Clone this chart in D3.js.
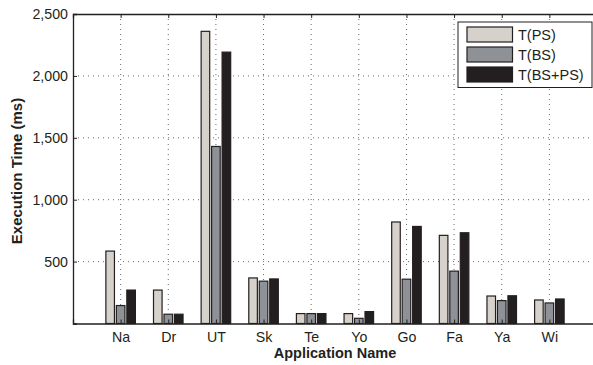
<!DOCTYPE html>
<html>
<head>
<meta charset="utf-8">
<script src="https://cdn.jsdelivr.net/npm/d3@7"></script>
<style>
  body { margin: 0; background: #fff; }
  svg { display: block; }
</style>
</head>
<body>
<svg id="chart" width="593" height="365"></svg>
<script>
// data
const apps = ["Na", "Dr", "UT", "Sk", "Te", "Yo", "Go", "Fa", "Ya", "Wi"];
const seriesNames = ["T(PS)", "T(BS)", "T(BS+PS)"];
const tPS   = [585, 270, 2360, 368, 80, 80, 820, 712, 222, 190];
const tBS   = [145, 75, 1430, 342, 80, 42, 358, 423, 185, 166];
const tBSPS = [270, 75, 2192, 360, 80, 96, 784, 733, 224, 198];
const yTicks = [500, 1000, 1500, 2000, 2500];
const colors = ["#d6d2cb", "#8e9195", "#231f20"];

const series = [tPS, tBS, tBSPS];

const svg = d3.select("#chart");
const width = 593, height = 365;
const margin = { top: 14, left: 73, bottom: 42 };
const plotRight = 597; // axis runs past the window edge
const plotBottom = height - margin.bottom + 0.5;

const font = "'Liberation Sans', Arial, Helvetica, sans-serif";

// scales
const x = d3.scaleLinear().domain([0, 11]).range([margin.left, plotRight]);
const y = d3.scaleLinear().domain([0, 2500]).range([plotBottom, margin.top]);

const gap = x(0.22) - x(0);
const bw = x(0.18) - x(0);

// grid
const grid = svg.append("g").attr("stroke", "#444").attr("stroke-width", 0.8)
  .attr("stroke-dasharray", "1,4");
grid.selectAll("line.v")
  .data(apps)
  .join("line")
    .attr("x1", (d, i) => x(i + 1))
    .attr("x2", (d, i) => x(i + 1))
    .attr("y1", y(2500))
    .attr("y2", y(0));
grid.selectAll("line.h")
  .data(yTicks.slice(0, -1))
  .join("line")
    .attr("x1", x(0))
    .attr("x2", plotRight)
    .attr("y1", d => y(d))
    .attr("y2", d => y(d));

// bars
series.forEach((vals, j) => {
  svg.append("g")
    .selectAll("rect")
    .data(vals)
    .join("rect")
      .attr("x", (d, i) => x(i + 1) + (j - 1) * gap - bw / 2)
      .attr("y", d => y(d))
      .attr("width", bw)
      .attr("height", d => y(0) - y(d))
      .attr("fill", colors[j])
      .attr("stroke", "#231f20")
      .attr("stroke-width", 1.2);
});

// axes
const xBottom = svg.append("g")
  .attr("transform", `translate(0,${y(0)})`)
  .call(d3.axisBottom(x).tickValues(d3.range(1, 11)).tickSize(-4)
    .tickFormat(d => apps[d - 1]).tickPadding(8));
const xTop = svg.append("g")
  .attr("transform", `translate(0,${y(2500)})`)
  .call(d3.axisTop(x).tickValues(d3.range(1, 11)).tickSize(-4).tickFormat(""));
const yLeft = svg.append("g")
  .attr("transform", `translate(${x(0)},0)`)
  .call(d3.axisLeft(y).tickValues(yTicks).tickSize(-4)
    .tickFormat(d3.format(",")).tickPadding(5));

[xBottom, xTop, yLeft].forEach(ax => {
  ax.select(".domain").attr("stroke", "#231f20").attr("stroke-width", 1.3);
  ax.selectAll(".tick line").attr("stroke", "#231f20");
  ax.selectAll("text")
    .attr("fill", "#231f20")
    .attr("font-family", font)
    .attr("font-size", "14.2px");
});

// axis titles
svg.append("text")
  .attr("x", (x(0) + plotRight) / 2)
  .attr("y", 358)
  .attr("text-anchor", "middle")
  .attr("font-family", font)
  .attr("font-weight", "bold")
  .attr("font-size", "14.5px")
  .attr("fill", "#231f20")
  .text("Application Name");

svg.append("text")
  .attr("transform", `translate(22,171) rotate(-90)`)
  .attr("text-anchor", "middle")
  .attr("font-family", font)
  .attr("font-weight", "bold")
  .attr("font-size", "15px")
  .attr("fill", "#231f20")
  .text("Execution Time (ms)");

// legend
const legend = svg.append("g").attr("transform", "translate(458,22)");
legend.append("rect")
  .attr("width", 134)
  .attr("height", 65.5)
  .attr("fill", "#fff")
  .attr("stroke", "#231f20")
  .attr("stroke-width", 1);

seriesNames.forEach((name, j) => {
  const row = legend.append("g").attr("transform", `translate(9,${5 + j * 20})`);
  row.append("rect")
    .attr("width", 45.5)
    .attr("height", 15)
    .attr("fill", colors[j])
    .attr("stroke", "#231f20")
    .attr("stroke-width", 1.2);
  row.append("text")
    .attr("x", 51)
    .attr("y", 13)
    .attr("font-family", font)
    .attr("font-size", "14.5px")
    .attr("fill", "#231f20")
    .text(name);
});
</script>
</body>
</html>
